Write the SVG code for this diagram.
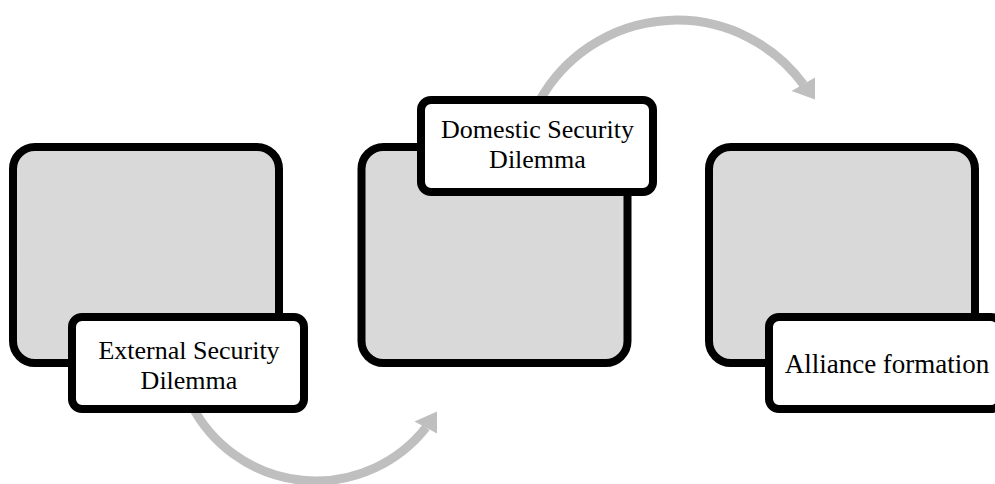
<svg xmlns="http://www.w3.org/2000/svg" width="995" height="484" viewBox="0 0 995 484">
  <style>
    .box { fill: #d9d9d9; stroke: #000; stroke-width: 8; }
    .label { fill: #fff; stroke: #000; stroke-width: 8; }
    .txt { font-family: "Liberation Serif", "Times New Roman", serif; font-size: 26px; fill: #000; text-anchor: middle; }
    .big { font-size: 27px; }
    .arc { fill: none; stroke: #bfbfbf; stroke-width: 9; }
    .head { fill: #bfbfbf; }
  </style>
  <rect width="995" height="484" fill="#fff"/>
  <g id="connectors">
    <path class="arc" d="M 191.5 405 A 140 140 0 0 0 426 427.5"/>
    <polygon class="head" points="437,411.5 414.5,421.5 437,433.5"/>
    <path class="arc" d="M 540 100 A 157 157 0 0 1 803.5 84.5"/>
    <polygon class="head" points="815,77.5 791.5,91 815,99.5"/>
  </g>
  <g id="node-external">
    <rect class="box" x="13" y="147" width="266" height="216" rx="22"/>
    <rect class="label" x="72" y="317" width="232" height="92" rx="10"/>
    <text class="txt" x="189" y="358.5">External Security</text>
    <text class="txt" x="189" y="388.5">Dilemma</text>
  </g>
  <g id="node-domestic">
    <rect class="box" x="361.5" y="147" width="266" height="216" rx="22"/>
    <rect class="label" x="421" y="100" width="232" height="92" rx="10"/>
    <text class="txt" x="537.5" y="137.5">Domestic Security</text>
    <text class="txt" x="537.5" y="167.5">Dilemma</text>
  </g>
  <g id="node-alliance">
    <rect class="box" x="709" y="147" width="266" height="216" rx="22"/>
    <rect class="label" x="769" y="317" width="232" height="92" rx="10"/>
    <text class="txt big" x="887" y="373">Alliance formation</text>
  </g>
</svg>
